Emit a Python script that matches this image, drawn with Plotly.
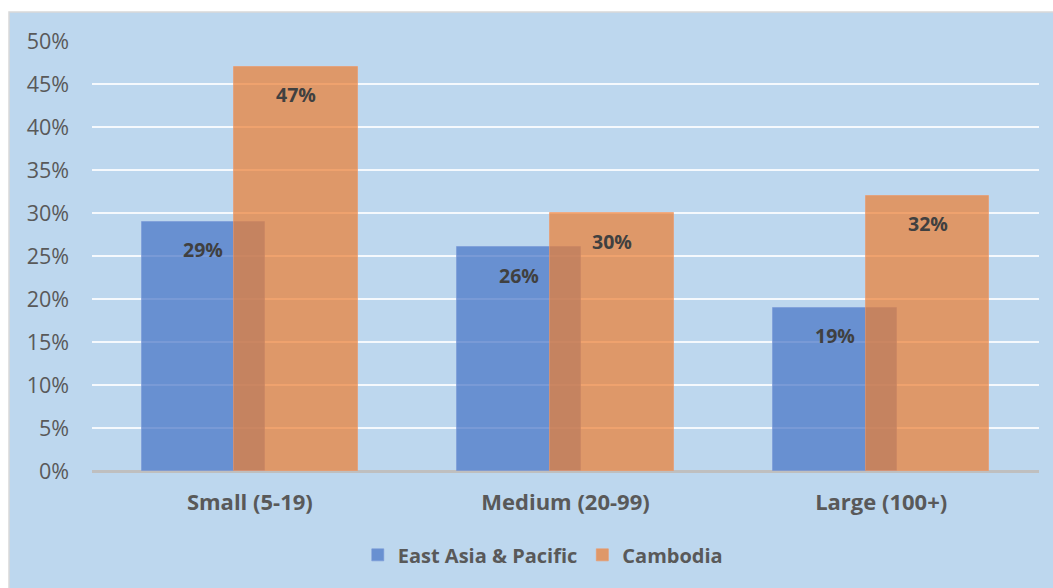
import plotly.graph_objects as go

categories = ["Small (5-19)", "Medium (20-99)", "Large (100+)"]
east_asia = [0.29, 0.26, 0.19]
cambodia = [0.47, 0.30, 0.32]
series_names = ["East Asia & Pacific", "Cambodia"]

BAR_W = 0.392
OFF_BLUE = -0.343
OFF_ORANGE = -0.049
FONT = "Open Sans"

fig = go.Figure()
fig.add_trace(go.Bar(
    x=categories, y=east_asia, name=series_names[0],
    width=BAR_W, offset=OFF_BLUE,
    marker=dict(color="rgba(68,114,196,0.70)", line=dict(width=1, color="rgba(120,150,215,0.6)")),
))
fig.add_trace(go.Bar(
    x=categories, y=cambodia, name=series_names[1],
    width=BAR_W, offset=OFF_ORANGE,
    marker=dict(color="rgba(237,125,49,0.70)", line=dict(width=1, color="rgba(240,150,100,0.6)")),
))

annotations = []
for i, (b, o) in enumerate(zip(east_asia, cambodia)):
    for val, off in ((b, OFF_BLUE), (o, OFF_ORANGE)):
        annotations.append(dict(
            x=i + off + BAR_W / 2, y=val, xref="x", yref="y",
            text=f"{round(val*100)}%", showarrow=False,
            yanchor="middle", yshift=-28,
            font=dict(family=FONT, size=19.5, color="#404040", weight="bold"),
        ))

fig.update_layout(
    width=1053, height=588,
    margin=dict(l=92, r=14, t=41, b=117),
    paper_bgcolor="white",
    plot_bgcolor="rgba(0,0,0,0)",
    barmode="overlay",
    bargap=0,
    showlegend=True,
    legend=dict(orientation="h", x=0.476, xanchor="center", y=-0.195, yanchor="middle",
                font=dict(family=FONT, size=20, color="#595959", weight="bold"),
                bgcolor="rgba(0,0,0,0)", itemwidth=30, traceorder="normal"),
    annotations=annotations,
    shapes=[dict(type="rect", xref="paper", yref="paper",
                 x0=(9 - 92) / 947, x1=1.05, y0=-0.35, y1=(471 - 12) / 430,
                 fillcolor="#BDD7EE", line=dict(color="#D9D9D9", width=1.5), layer="below")],
    font=dict(family=FONT),
)
fig.update_xaxes(
    type="category", range=[-0.5, 2.5], showgrid=False, showline=False, ticks="",
    tickfont=dict(family=FONT, size=22, color="#595959", weight="bold"),
    ticklabelstandoff=16,
)
fig.update_yaxes(
    range=[0, 0.5], dtick=0.05, tickformat=".0%",
    showgrid=True, gridcolor="rgba(255,255,255,0.85)", gridwidth=2,
    zeroline=True, zerolinecolor="#BFBFBF", zerolinewidth=3,
    showline=False, ticks="",
    tickfont=dict(family=FONT, size=21.5, color="#595959"),
    ticklabelstandoff=22,
)

fig.write_html("out.html")
